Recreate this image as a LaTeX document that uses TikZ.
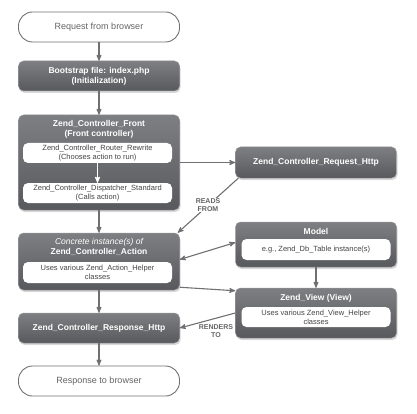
\documentclass[tikz,border=0pt]{standalone}
\usepackage{fontspec}
\setmainfont{Liberation Sans}
\usetikzlibrary{arrows}
\usetikzlibrary{shadows}

\definecolor{boxtop}{RGB}{126,127,130}
\definecolor{boxbottom}{RGB}{88,89,92}
\definecolor{boxedge}{RGB}{150,150,152}
\definecolor{linegray}{RGB}{112,112,114}
\definecolor{textgray}{RGB}{100,100,102}
\definecolor{innertext}{RGB}{68,68,70}

\begin{document}
\begin{tikzpicture}[x=1pt,y=-1pt,->,>=stealth',
    stadium/.style={draw=linegray,line width=0.9pt,rounded corners=14pt,fill=white,
      minimum width=161pt,minimum height=30pt,text=textgray,
      font=\fontsize{9}{11}\selectfont},
    dark box/.style={draw=boxedge,line width=0.5pt,rounded corners=5pt,
      top color=boxtop,bottom color=boxbottom,
      drop shadow={shadow xshift=1pt,shadow yshift=-2pt,opacity=0.3},
      text=white,font=\bfseries\fontsize{8.5}{10}\selectfont,align=center,
      minimum width=161pt,inner sep=0pt},
    inner box/.style={fill=white,rounded corners=5pt,minimum width=149pt,
      minimum height=20pt,text=innertext,font=\fontsize{7.5}{9}\selectfont,
      align=center,inner sep=0pt},
    title/.style={text=white,font=\bfseries\fontsize{8.5}{10}\selectfont,align=center},
    tag/.style={fill=white,inner sep=1pt,text=textgray,
      font=\bfseries\fontsize{7}{8}\selectfont,align=center},
    link/.style={draw=linegray,line width=1.1pt}]

  \useasboundingbox (0,0) rectangle (417,414);

  % main column
  \node[stadium] (req) at (99,27) {Request from browser};
  \node[dark box,minimum height=30pt] (boot) at (99,76) {Bootstrap file: index.php\\(Initialization)};
  \node[dark box,minimum height=95pt] (front) at (99,162.5) {};
  \node[title] (fronttitle) at (99,129) {Zend\_Controller\_Front\\(Front controller)};
  \node[inner box] (router) at (97.5,153) {Zend\_Controller\_Router\_Rewrite\\(Chooses action to run)};
  \node[inner box] (disp) at (97.5,193) {Zend\_Controller\_Dispatcher\_Standard\\(Calls action)};
  \node[dark box,minimum height=57pt] (action) at (99,261.5) {};
  \node[title] (actiontitle) at (99,247) {{\mdseries\itshape Concrete instance(s) of}\\Zend\_Controller\_Action};
  \node[inner box,minimum height=21pt] (helpers) at (97.5,272.5) {Uses various Zend\_Action\_Helper\\classes};
  \node[dark box,minimum height=30pt] (resp) at (99,328) {Zend\_Controller\_Response\_Http};
  \node[stadium] (out) at (99,381) {Response to browser};

  % right column
  \node[dark box,minimum height=31pt] (reqhttp) at (316,162.5) {Zend\_Controller\_Request\_Http};
  \node[dark box,minimum height=45pt] (model) at (316,244.5) {};
  \node[title] (modeltitle) at (316,231) {Model};
  \node[inner box,minimum height=21pt] (table) at (316,249.5) {e.g., Zend\_Db\_Table instance(s)};
  \node[dark box,minimum height=50pt] (view) at (316,313) {};
  \node[title] (viewtitle) at (316,298) {Zend\_View (View)};
  \node[inner box] (viewhelpers) at (316,317) {Uses various Zend\_View\_Helper\\classes};

  \draw[link] (req) -- (boot);
  \draw[link] (boot) -- (front);
  \draw[link,draw=white] (router) -- (disp);
  \draw[link] (front) -- (action);
  \draw[link] (action) -- (resp);
  \draw[link] (resp) -- (out);
  \draw[link] (front.east) -- (reqhttp.west);
  \draw[link] ([xshift=3pt]reqhttp.south west) -- ([xshift=-2pt]action.north east);
  \draw[link,<->] ([yshift=2pt]action.east) -- ([yshift=2pt]model.west);
  \draw[link] ([yshift=3pt]action.south east) -- ([yshift=-3pt]view.north west);
  \draw[link] (model) -- (view);
  \draw[link] (view.west) -- (resp.east);

  % labels on the links
  \node[tag] (reads) at (208,205) {READS\\FROM};
  \node[tag] (renders) at (216,331) {RENDERS\\TO};
\end{tikzpicture}
\end{document}
